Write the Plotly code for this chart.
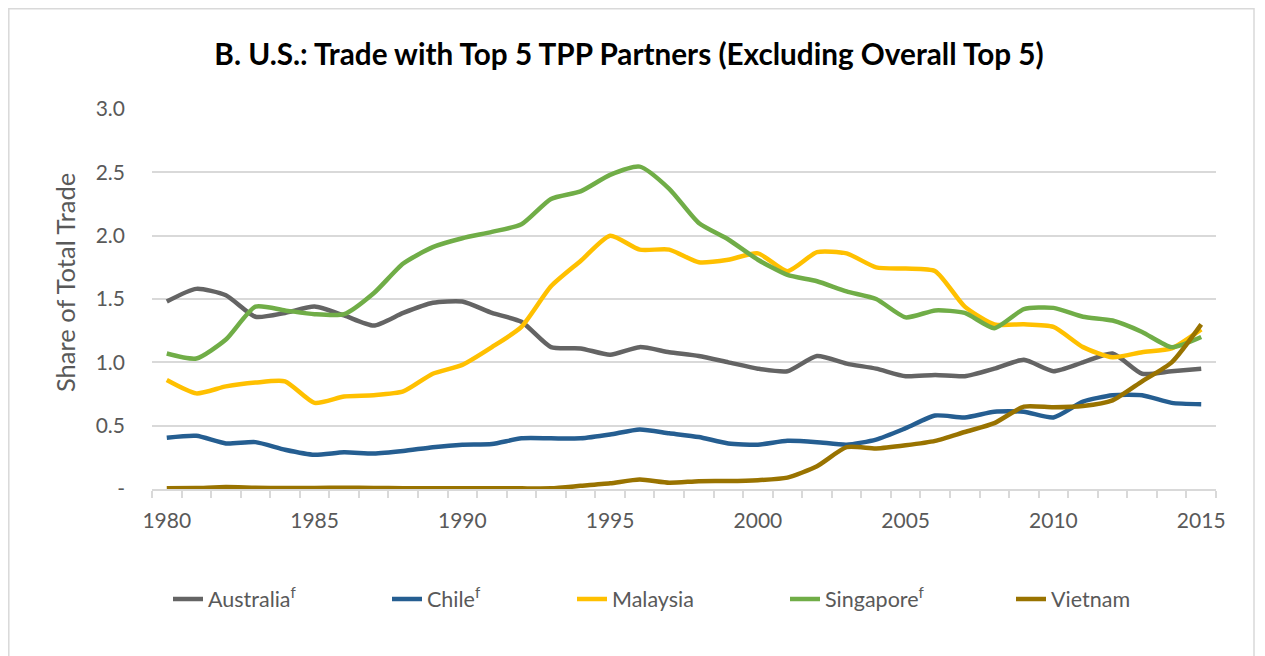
import plotly.graph_objects as go

years = list(range(1980, 2016))

australia = [1.48, 1.58, 1.53, 1.36, 1.39, 1.44, 1.37, 1.29, 1.39, 1.47, 1.48, 1.39,
             1.32, 1.12, 1.11, 1.06, 1.12, 1.08, 1.05, 1.00, 0.95, 0.93, 1.05, 0.99,
             0.95, 0.89, 0.90, 0.89, 0.95, 1.02, 0.93, 1.00, 1.07, 0.91, 0.93, 0.95]
chile = [0.405, 0.42, 0.36, 0.37, 0.31, 0.27, 0.29, 0.28, 0.30, 0.33, 0.35, 0.355,
         0.40, 0.40, 0.40, 0.43, 0.47, 0.44, 0.41, 0.36, 0.35, 0.38, 0.37, 0.35,
         0.39, 0.48, 0.58, 0.565, 0.61, 0.61, 0.565, 0.69, 0.74, 0.74, 0.68, 0.67]
malaysia = [0.86, 0.755, 0.81, 0.84, 0.85, 0.68, 0.73, 0.74, 0.77, 0.91, 0.98, 1.12,
            1.28, 1.60, 1.80, 2.00, 1.89, 1.89, 1.79, 1.81, 1.86, 1.72, 1.87, 1.86,
            1.75, 1.74, 1.72, 1.44, 1.30, 1.30, 1.28, 1.12, 1.04, 1.08, 1.11, 1.26]
singapore = [1.07, 1.03, 1.18, 1.44, 1.41, 1.38, 1.38, 1.545, 1.78, 1.91, 1.98, 2.03,
             2.09, 2.29, 2.35, 2.48, 2.545, 2.37, 2.10, 1.97, 1.81, 1.69, 1.64, 1.56,
             1.50, 1.355, 1.41, 1.39, 1.27, 1.42, 1.43, 1.36, 1.33, 1.24, 1.12, 1.20]
vietnam = [0.005, 0.008, 0.015, 0.01, 0.008, 0.008, 0.01, 0.008, 0.006, 0.005, 0.005, 0.005,
           0.005, 0.006, 0.025, 0.045, 0.075, 0.05, 0.062, 0.063, 0.07, 0.09, 0.18, 0.33,
           0.32, 0.345, 0.38, 0.45, 0.52, 0.65, 0.645, 0.655, 0.70, 0.85, 1.00, 1.30]

names = ["Australia<sup>f</sup>", "Chile<sup>f</sup>", "Malaysia", "Singapore<sup>f</sup>", "Vietnam"]
series = [australia, chile, malaysia, singapore, vietnam]
colors = ["#646464", "#255E91", "#FFC000", "#70AD47", "#997300"]
legend_ids = ["legend", "legend2", "legend3", "legend4", "legend5"]
legend_text_px = [208, 427, 612, 825, 1051]

y_tickvals = [0, 0.5, 1.0, 1.5, 2.0, 2.5, 3.0]
y_ticktext = ["-", "0.5", "1.0", "1.5", "2.0", "2.5", "3.0"]
x_tickvals = [1980, 1985, 1990, 1995, 2000, 2005, 2010, 2015]

FONT = "Lato"
GRAY = "#595959"

fig = go.Figure()
for nm, ys, c, lg in zip(names, series, colors, legend_ids):
    fig.add_trace(go.Scatter(
        x=years, y=ys, name=nm, mode="lines", legend=lg,
        line=dict(color=c, width=4.5, shape="spline", smoothing=0.6),
    ))

# page offset of 8px (body margin) accounted for
W, H = 1257, 648
L, R, T, B = 144, 49, 101, 167
pw = W - L - R
ph = H - T - B
PL, PB = 152, 489  # plot left / bottom in page coords

layout_legends = {}
for lg, px in zip(legend_ids, legend_text_px):
    layout_legends[lg] = dict(
        x=(px - 40 - PL) / pw, xanchor="left",
        y=(PB - 599) / ph, yanchor="middle",
        orientation="h", bgcolor="rgba(0,0,0,0)",
        font=dict(family=FONT, size=21.5, color=GRAY),
        itemwidth=30,
    )

fig.update_layout(
    width=W, height=H,
    margin=dict(l=L, r=R, t=T, b=B),
    paper_bgcolor="white", plot_bgcolor="white",
    title=dict(text="<b>B. U.S.: Trade with Top 5 TPP Partners (Excluding Overall Top 5)</b>",
               x=621 / W, xanchor="center", y=1 - 47 / H, yanchor="middle",
               font=dict(family=FONT, size=29.7, color="#000000")),
    showlegend=True,
    **layout_legends,
    xaxis=dict(
        range=[1979.5, 2015.5], tickvals=x_tickvals, ticks="",
        tickfont=dict(family=FONT, size=21, color=GRAY),
        showgrid=False, zeroline=False,
        showline=True, linecolor="#d9d9d9", linewidth=1.5,
        ticklabelstandoff=12,
        minor=dict(tick0=1979.5, dtick=1, ticks="outside", ticklen=7,
                   tickcolor="#d9d9d9", tickwidth=1.5, showgrid=False),
    ),
    yaxis=dict(
        range=[0, 3.0], tickvals=y_tickvals, ticktext=y_ticktext,
        tickfont=dict(family=FONT, size=21, color=GRAY),
        showgrid=True, gridcolor="#d9d9d9", gridwidth=1.5,
        zeroline=False, showline=False, ticks="",
        ticklabelstandoff=26,
    ),
    annotations=[dict(text="Share of Total Trade", textangle=-90, showarrow=False,
                      xref="paper", yref="paper",
                      x=(65 - PL) / pw, y=(PB - 283) / ph,
                      xanchor="center", yanchor="middle",
                      font=dict(family=FONT, size=25.5, color=GRAY))],
    shapes=[dict(type="rect", xref="paper", yref="paper",
                 x0=(8.8 - PL) / pw, x1=(1254 - PL) / pw,
                 y0=(PB - 670) / ph, y1=(PB - 8.8) / ph,
                 line=dict(color="#d9d9d9", width=1.5), fillcolor="rgba(0,0,0,0)",
                 layer="below")],
)

fig.write_html("out.html")
